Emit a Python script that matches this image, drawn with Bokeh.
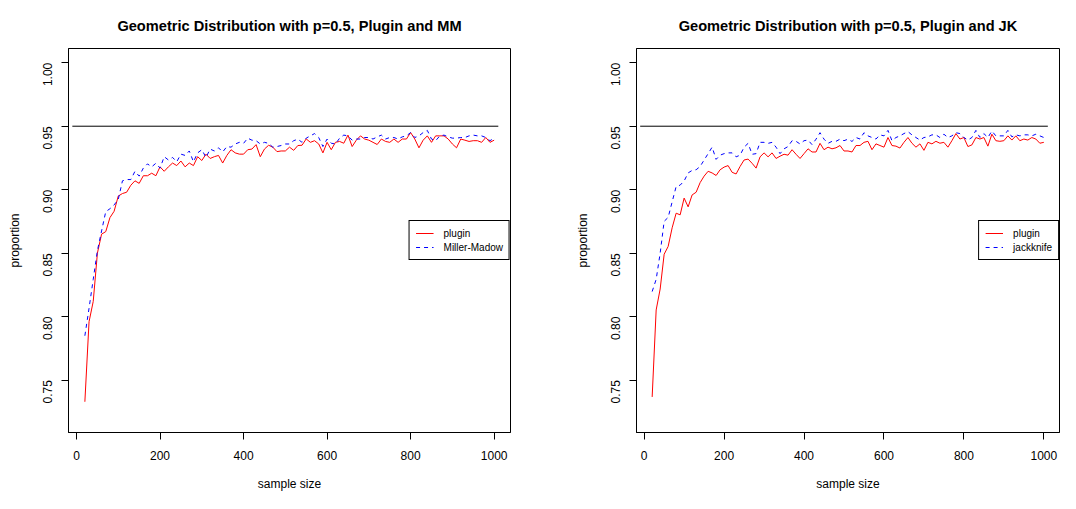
import math
from bokeh.plotting import figure
from bokeh.models import Range1d, FixedTicker, PrintfTickFormatter, Legend, LegendItem
from bokeh.layouts import row
from bokeh.embed import file_html
from bokeh.resources import INLINE

# ---------------- data ----------------
sample_size = list(range(20, 1001, 10))

plugin_mm = [
    0.733, 0.796, 0.812, 0.850, 0.865, 0.867, 0.878, 0.883, 0.895, 0.897,
    0.898, 0.9035, 0.907, 0.905, 0.911, 0.911, 0.913, 0.911, 0.918, 0.9145,
    0.918, 0.921, 0.919, 0.9226, 0.918, 0.921, 0.919, 0.926, 0.923, 0.928,
    0.9246, 0.926, 0.927, 0.921, 0.927, 0.9315, 0.929, 0.928, 0.928, 0.9315,
    0.932, 0.9355, 0.926, 0.932, 0.935, 0.9335, 0.930, 0.9305, 0.9305, 0.9335,
    0.931, 0.9348, 0.935, 0.940, 0.9373, 0.9386, 0.936, 0.929, 0.9373, 0.9315,
    0.9373, 0.938, 0.9366, 0.943, 0.934, 0.939, 0.9424, 0.9399, 0.939, 0.9373,
    0.9356, 0.9399, 0.938, 0.9373, 0.9399, 0.9373, 0.9399, 0.9399, 0.945, 0.9399,
    0.933, 0.939, 0.9424, 0.9373, 0.9424, 0.9424, 0.9424, 0.9399, 0.936, 0.933,
    0.9399, 0.939, 0.938, 0.9386, 0.9386, 0.9373, 0.9411, 0.9373, 0.939,
]

miller_madow = [
    0.785, 0.8066, 0.8294, 0.852, 0.8675, 0.8827, 0.885, 0.888, 0.8924, 0.907,
    0.908, 0.908, 0.9145, 0.9107, 0.917, 0.9203, 0.918, 0.9208, 0.917, 0.926,
    0.9234, 0.9254, 0.922, 0.928, 0.927, 0.9305, 0.922, 0.929, 0.9315, 0.9254,
    0.932, 0.9305, 0.933, 0.9297, 0.934, 0.9335, 0.936, 0.9373, 0.9365, 0.9406,
    0.939, 0.9386, 0.936, 0.9373, 0.9365, 0.9335, 0.934, 0.9348, 0.936, 0.936,
    0.9386, 0.9398, 0.9373, 0.9406, 0.9424, 0.9442, 0.9411, 0.934, 0.9399, 0.9366,
    0.936, 0.9406, 0.943, 0.9424, 0.939, 0.9399, 0.9399, 0.9411, 0.9411, 0.9399,
    0.9416, 0.943, 0.9399, 0.9411, 0.9411, 0.9399, 0.9416, 0.9424, 0.945, 0.9411,
    0.9424, 0.945, 0.9467, 0.9399, 0.9386, 0.9424, 0.943, 0.9416, 0.9406, 0.9406,
    0.9411, 0.9411, 0.9424, 0.943, 0.9424, 0.9424, 0.9411, 0.9386, 0.9406,
]

plugin_jk = [
    0.7368, 0.8053, 0.8218, 0.8492, 0.8553, 0.870, 0.8815, 0.8802, 0.8934, 0.8865,
    0.8959, 0.898, 0.9056, 0.9107, 0.9145, 0.9132, 0.9112, 0.9157, 0.9178, 0.919,
    0.9137, 0.9124, 0.9183, 0.9234, 0.9241, 0.9208, 0.917, 0.9259, 0.929, 0.9259,
    0.929, 0.9246, 0.9264, 0.9279, 0.9272, 0.9315, 0.9279, 0.9246, 0.9284, 0.9322,
    0.9297, 0.9297, 0.9365, 0.9315, 0.9335, 0.9322, 0.933, 0.9348, 0.9305, 0.9305,
    0.9297, 0.9348, 0.9348, 0.9373, 0.9381, 0.9315, 0.9361, 0.9348, 0.9335, 0.9411,
    0.9348, 0.9343, 0.9328, 0.9373, 0.9411, 0.9366, 0.9335, 0.9361, 0.931, 0.9373,
    0.9361, 0.9381, 0.9366, 0.9373, 0.9335, 0.9386, 0.9442, 0.9399, 0.9411, 0.934,
    0.9353, 0.9411, 0.9399, 0.9411, 0.9343, 0.9437, 0.9386, 0.9381, 0.9386, 0.9424,
    0.9391, 0.9424, 0.9386, 0.9399, 0.9391, 0.9411, 0.9399, 0.9366, 0.9373,
]

jackknife = [
    0.8198, 0.8294, 0.850, 0.8751, 0.8782, 0.8904, 0.9025, 0.9036, 0.9069, 0.9132,
    0.9152, 0.9157, 0.9183, 0.9234, 0.9284, 0.9335, 0.9239, 0.9272, 0.9284, 0.929,
    0.929, 0.9259, 0.9272, 0.9335, 0.9365, 0.9279, 0.9284, 0.9373, 0.9373, 0.9365,
    0.9373, 0.9335, 0.9284, 0.9322, 0.934, 0.9386, 0.9381, 0.936, 0.9386, 0.9391,
    0.9355, 0.9398, 0.9449, 0.9398, 0.9365, 0.9381, 0.9381, 0.9398, 0.9386, 0.9398,
    0.938, 0.9411, 0.9399, 0.9449, 0.9424, 0.9411, 0.9399, 0.9432, 0.9424, 0.9467,
    0.9386, 0.9411, 0.9424, 0.9442, 0.9457, 0.9432, 0.9411, 0.9391, 0.9411, 0.9416,
    0.9432, 0.9432, 0.9411, 0.9437, 0.9411, 0.9424, 0.9449, 0.9442, 0.9411, 0.9391,
    0.9411, 0.9467, 0.9411, 0.9442, 0.9411, 0.9462, 0.9424, 0.9424, 0.9424, 0.9467,
    0.9416, 0.9432, 0.9424, 0.9432, 0.9432, 0.9424, 0.9437, 0.9424, 0.9411,
]

ref_x = [-10, 1010]
ref_y = [0.95, 0.95]

x_ticks = [0, 200, 400, 600, 800, 1000]
y_ticks = [0.75, 0.80, 0.85, 0.90, 0.95, 1.00]

FONT = "Liberation Sans"


def make_panel(title, est, est_label, width, border_left, border_right):
    p = figure(width=width, height=493, output_backend="svg", toolbar_location=None,
               x_range=Range1d(-19.2, 1039.2), y_range=Range1d(0.7088, 1.0112),
               min_border_left=border_left, min_border_right=border_right,
               min_border_top=42, min_border_bottom=58,
               background_fill_color="white", border_fill_color="white")
    p.outline_line_color = "black"
    p.outline_line_width = 1
    p.outline_line_alpha = 1.0
    p.xgrid.visible = False
    p.ygrid.visible = False

    p.title.text = title
    p.title.align = "center"
    p.title.text_font = FONT
    p.title.text_font_size = "14.6px"
    p.title.text_font_style = "bold"
    p.title.text_color = "black"
    p.title.standoff = 30

    for ax in (p.xaxis[0], p.yaxis[0]):
        ax.major_tick_out = 7
        ax.major_tick_in = 0
        ax.minor_tick_out = 0
        ax.minor_tick_in = 0
        ax.axis_line_color = "black"
        ax.major_tick_line_color = "black"
        ax.major_label_text_font = FONT
        ax.major_label_text_font_size = "12px"
        ax.major_label_text_color = "black"
        ax.axis_label_text_font = FONT
        ax.axis_label_text_font_size = "12px"
        ax.axis_label_text_font_style = "normal"
        ax.axis_label_text_color = "black"

    p.xaxis.ticker = FixedTicker(ticks=x_ticks)
    p.xaxis.axis_label = "sample size"
    p.xaxis.major_label_standoff = 11
    p.xaxis.axis_label_standoff = 14

    p.yaxis.ticker = FixedTicker(ticks=y_ticks)
    p.yaxis.formatter = PrintfTickFormatter(format="%.2f")
    p.yaxis.major_label_orientation = math.pi / 2
    p.yaxis.axis_label = "proportion"
    p.yaxis.major_label_standoff = 14
    p.yaxis.axis_label_standoff = 14

    p.line(ref_x, ref_y, line_color="black", line_width=1)
    r1 = p.line(sample_size, est[0], line_color="red", line_width=1)
    r2 = p.line(sample_size, est[1], line_color="blue", line_width=1, line_dash="4 4")

    legend = Legend(items=[LegendItem(label="plugin", renderers=[r1]),
                           LegendItem(label=est_label, renderers=[r2])],
                    location="right", orientation="vertical",
                    margin=0, padding=6, spacing=2,
                    label_height=12, glyph_height=12, glyph_width=18,
                    label_standoff=10,
                    label_text_font=FONT, label_text_font_size="10px",
                    label_text_color="black",
                    border_line_color="black", border_line_width=1, border_line_alpha=1.0,
                    background_fill_color="white", background_fill_alpha=1.0)
    p.add_layout(legend)
    return p


p1 = make_panel("Geometric Distribution with p=0.5, Plugin and MM",
                (plugin_mm, miller_madow), "Miller-Madow",
                width=538, border_left=68, border_right=28)
p2 = make_panel("Geometric Distribution with p=0.5, Plugin and JK",
                (plugin_jk, jackknife), "jackknife",
                width=522, border_left=98, border_right=1)

layout = row(p1, p2, spacing=0)
open("out.html", "w").write(file_html(layout, INLINE))
